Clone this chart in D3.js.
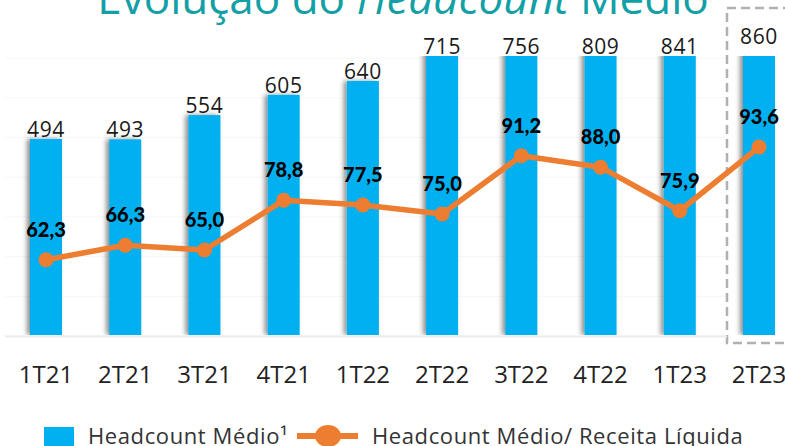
<!DOCTYPE html>
<html>
<head>
<meta charset="utf-8">
<script src="https://cdn.jsdelivr.net/npm/d3@7"></script>
<style>
  html, body { margin: 0; padding: 0; background: #fff; }
  svg { display: block; }
</style>
</head>
<body>
<svg id="chart"></svg>
<script>
// Data
const periods = ["1T21", "2T21", "3T21", "4T21", "1T22", "2T22", "3T22", "4T22", "1T23", "2T23"];
const headcount = [494, 493, 554, 605, 640, 715, 756, 809, 841, 860];
const perRevenue = [62.3, 66.3, 65.0, 78.8, 77.5, 75.0, 91.2, 88.0, 75.9, 93.6];
const gridTicks = [0, 100, 200, 300, 400, 500, 600, 700];
const highlighted = "2T23";

const width = 785, height = 446;
const svg = d3.select("#chart").attr("width", width).attr("height", height);

const barColor = "#00b0f0";
const lineColor = "#ed7d31";
const numFmt = d3.formatLocale({ decimal: ",", thousands: ".", grouping: [3], currency: ["R$", ""] }).format(".1f");

// Scales
const x = d3.scalePoint().domain(periods).range([46, 759]);
const y = d3.scaleLinear().domain([0, 844]).range([335, 0]);
const y2 = d3.scaleLinear().domain([40, 100]).range([340, 124]);
const plotTop = 56;
const barW = 32;

// Shadow filter and clip
const defs = svg.append("defs");
const f = defs.append("filter").attr("id", "shadow")
    .attr("x", "-50%").attr("y", "-10%").attr("width", "200%").attr("height", "120%");
f.append("feDropShadow").attr("dx", -3).attr("dy", 0).attr("stdDeviation", 2.5)
    .attr("flood-color", "#000").attr("flood-opacity", 0.45);
defs.append("clipPath").attr("id", "plotclip")
    .append("rect").attr("x", 0).attr("y", plotTop).attr("width", width).attr("height", 335 - plotTop);

// Title (cut at top)
svg.append("text")
    .attr("x", 403).attr("y", 14)
    .attr("text-anchor", "middle")
    .attr("fill", "#12a0a6")
    .style("font", "400 44px 'Open Sans', sans-serif")
    .call(t => {
        t.append("tspan").text("Evolução do ");
        t.append("tspan").attr("font-style", "italic").text("Headcount");
        t.append("tspan").text(" Médio");
    });

// Faint gridlines
svg.append("g").selectAll("line").data(gridTicks).join("line")
    .attr("x1", 5).attr("x2", 727)
    .attr("y1", d => y(d) + 1).attr("y2", d => y(d) + 1)
    .attr("stroke", "#f7f7f7").attr("stroke-width", 1);

// Highlight box around last period
svg.append("rect")
    .attr("x", x(highlighted) - barW).attr("y", 8)
    .attr("width", 120).attr("height", 335)
    .attr("fill", "none")
    .attr("stroke", "#b0b0b0").attr("stroke-width", 2.5)
    .attr("stroke-dasharray", "9,5");

// Bars
svg.append("g").attr("clip-path", "url(#plotclip)")
    .selectAll("rect").data(headcount).join("rect")
    .attr("x", (d, i) => x(periods[i]) - barW / 2)
    .attr("y", d => y(d))
    .attr("width", barW)
    .attr("height", d => y(0) - y(d))
    .attr("fill", barColor)
    .attr("filter", "url(#shadow)");

// Baseline
svg.append("line")
    .attr("x1", 5).attr("x2", 727)
    .attr("y1", 336.5).attr("y2", 336.5)
    .attr("stroke", "#ececec").attr("stroke-width", 2);

// Bar labels
svg.append("g").selectAll("text").data(headcount).join("text")
    .attr("x", (d, i) => x(periods[i]))
    .attr("y", (d, i) => Math.max(y(d), plotTop) - 2 - (periods[i] === highlighted ? 10 : 0))
    .attr("text-anchor", "middle")
    .attr("fill", "#1a1a1a")
    .style("font", "400 21px 'Open Sans', sans-serif")
    .attr("letter-spacing", "0.6")
    .text(d => d);

// Line
const line = d3.line().x((d, i) => x(periods[i])).y(d => y2(d));
svg.append("path").datum(perRevenue)
    .attr("d", line)
    .attr("fill", "none")
    .attr("stroke", lineColor)
    .attr("stroke-width", 5.5)
    .attr("stroke-linejoin", "round");

svg.append("g").selectAll("circle").data(perRevenue).join("circle")
    .attr("cx", (d, i) => x(periods[i]))
    .attr("cy", d => y2(d))
    .attr("r", 7.5)
    .attr("fill", lineColor);

svg.append("g").selectAll("text").data(perRevenue).join("text")
    .attr("x", (d, i) => x(periods[i]))
    .attr("y", d => y2(d) - 23)
    .attr("text-anchor", "middle")
    .attr("fill", "#000")
    .style("font", "900 20px Lato, sans-serif")
    .text(d => numFmt(d));

// X axis labels
svg.append("g").selectAll("text").data(periods).join("text")
    .attr("x", d => x(d))
    .attr("y", 383)
    .attr("text-anchor", "middle")
    .attr("fill", "#222")
    .style("font", "400 24px 'Open Sans', sans-serif")
    .text(d => d);

// Legend
const legend = svg.append("g").style("font", "400 22px 'Open Sans', sans-serif")
    .attr("letter-spacing", "0.6").attr("fill", "#333");
legend.append("rect").attr("x", 44).attr("y", 427).attr("width", 30).attr("height", 19).attr("fill", barColor);
legend.append("text").attr("x", 88).attr("y", 444).text("Headcount Médio¹");
legend.append("line").attr("x1", 297).attr("x2", 358).attr("y1", 436).attr("y2", 436)
    .attr("stroke", lineColor).attr("stroke-width", 6);
legend.append("ellipse").attr("cx", 328).attr("cy", 436).attr("rx", 13).attr("ry", 11).attr("fill", lineColor);
legend.append("text").attr("x", 372).attr("y", 444).text("Headcount Médio/ Receita Líquida");
</script>
</body>
</html>
